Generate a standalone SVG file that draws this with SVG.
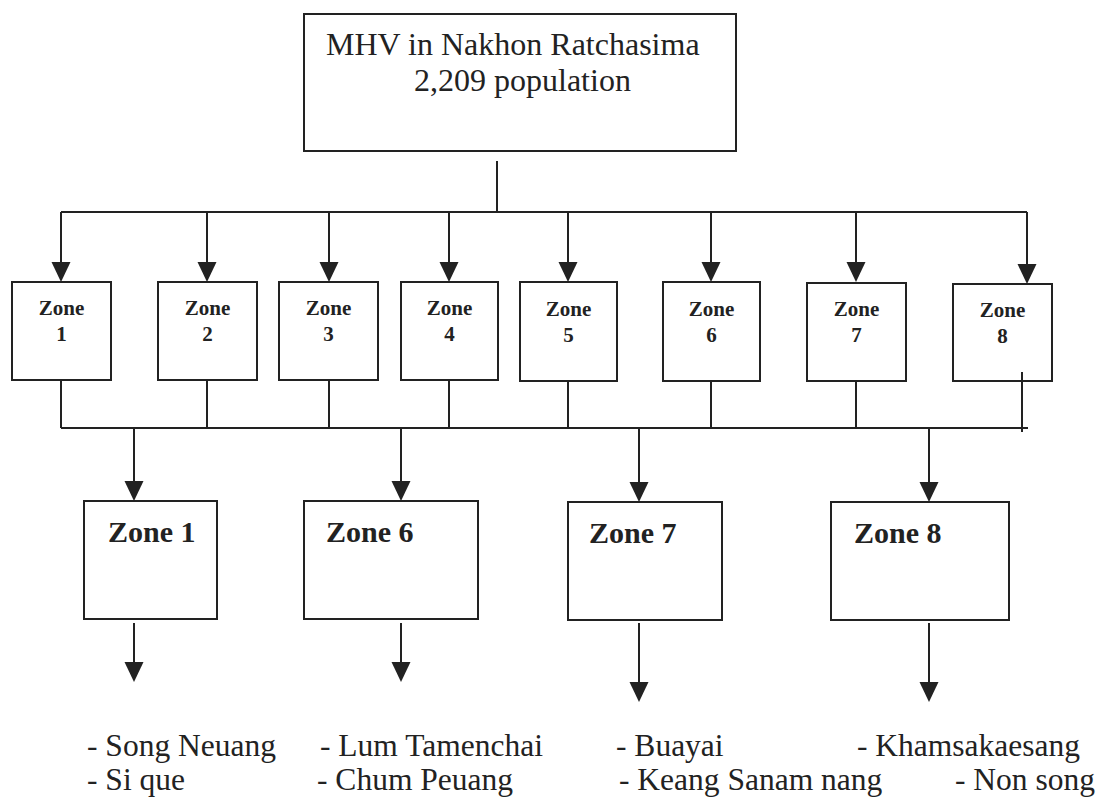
<svg xmlns="http://www.w3.org/2000/svg" width="1107" height="798" viewBox="0 0 1107 798">
<style>
  .box { fill: #ffffff; stroke: #222; stroke-width: 2; }
  .ln { fill: none; stroke: #222; stroke-width: 2; }
  .ah { fill: #222; stroke: none; }
  .t { font-family: "Liberation Serif", "Times New Roman", serif; fill: #222; }
  .title { font-size: 32px; }
  .zs { font-size: 21px; font-weight: bold; text-anchor: middle; }
  .zb { font-size: 30px; font-weight: bold; }
  .lst { font-size: 31.5px; }
</style>
<defs>
  <marker id="arr" viewBox="0 0 20 20" refX="10" refY="20" markerWidth="20" markerHeight="20" markerUnits="userSpaceOnUse" orient="auto-start-reverse">
    <path d="M0,0 L20,0 L10,20 Z" class="ah"/>
  </marker>
</defs>
<rect width="1107" height="798" fill="#ffffff"/>

<g id="connectors">
  <line class="ln" x1="497" y1="161" x2="497" y2="212"/>
  <line class="ln" x1="61" y1="212" x2="1027" y2="212"/>
  <g>
    <line class="ln" x1="61" y1="212" x2="61" y2="262"/><path class="ah" d="M51.5,262 L70.5,262 L61,282 Z"/>
    <line class="ln" x1="207" y1="212" x2="207" y2="262"/><path class="ah" d="M197.5,262 L216.5,262 L207,282 Z"/>
    <line class="ln" x1="329" y1="212" x2="329" y2="262"/><path class="ah" d="M319.5,262 L338.5,262 L329,282 Z"/>
    <line class="ln" x1="449" y1="212" x2="449" y2="262"/><path class="ah" d="M439.5,262 L458.5,262 L449,282 Z"/>
    <line class="ln" x1="568" y1="212" x2="568" y2="262"/><path class="ah" d="M558.5,262 L577.5,262 L568,282 Z"/>
    <line class="ln" x1="711" y1="212" x2="711" y2="262"/><path class="ah" d="M701.5,262 L720.5,262 L711,282 Z"/>
    <line class="ln" x1="856" y1="212" x2="856" y2="262"/><path class="ah" d="M846.5,262 L865.5,262 L856,282 Z"/>
    <line class="ln" x1="1027" y1="212" x2="1027" y2="264"/><path class="ah" d="M1017.5,264 L1036.5,264 L1027,284 Z"/>
  </g>
  <g>
    <line class="ln" x1="61" y1="380" x2="61" y2="428"/>
    <line class="ln" x1="207" y1="380" x2="207" y2="428"/>
    <line class="ln" x1="329" y1="380" x2="329" y2="428"/>
    <line class="ln" x1="449" y1="380" x2="449" y2="428"/>
    <line class="ln" x1="568" y1="381" x2="568" y2="428"/>
    <line class="ln" x1="711" y1="381" x2="711" y2="428"/>
    <line class="ln" x1="856" y1="381" x2="856" y2="428"/>
    <line class="ln" x1="61" y1="428" x2="1028" y2="428"/>
  </g>
  <g>
    <line class="ln" x1="134" y1="428" x2="134" y2="481"/><path class="ah" d="M124.5,481 L143.5,481 L134,501 Z"/>
    <line class="ln" x1="401" y1="428" x2="401" y2="481"/><path class="ah" d="M391.5,481 L410.5,481 L401,501 Z"/>
    <line class="ln" x1="639" y1="428" x2="639" y2="482"/><path class="ah" d="M629.5,482 L648.5,482 L639,502 Z"/>
    <line class="ln" x1="929" y1="428" x2="929" y2="482"/><path class="ah" d="M919.5,482 L938.5,482 L929,502 Z"/>
  </g>
  <g>
    <line class="ln" x1="134" y1="623" x2="134" y2="662"/><path class="ah" d="M124.5,662 L143.5,662 L134,682 Z"/>
    <line class="ln" x1="401" y1="623" x2="401" y2="662"/><path class="ah" d="M391.5,662 L410.5,662 L401,682 Z"/>
    <line class="ln" x1="639" y1="623" x2="639" y2="682"/><path class="ah" d="M629.5,682 L648.5,682 L639,702 Z"/>
    <line class="ln" x1="929" y1="623" x2="929" y2="682"/><path class="ah" d="M919.5,682 L938.5,682 L929,702 Z"/>
  </g>
</g>

<g id="root">
  <rect class="box" x="304" y="14" width="432" height="137"/>
  <text class="t title" x="326" y="55">MHV in Nakhon Ratchasima</text>
  <text class="t title" x="414" y="91">2,209 population</text>
</g>

<g id="zone1"><rect class="box" x="12" y="282" width="99" height="98"/><text class="t zs" x="61.5" y="315">Zone</text><text class="t zs" x="61.5" y="341">1</text></g>
<g id="zone2"><rect class="box" x="158" y="282" width="99" height="98"/><text class="t zs" x="207.5" y="315">Zone</text><text class="t zs" x="207.5" y="341">2</text></g>
<g id="zone3"><rect class="box" x="279" y="282" width="99" height="98"/><text class="t zs" x="328.5" y="315">Zone</text><text class="t zs" x="328.5" y="341">3</text></g>
<g id="zone4"><rect class="box" x="401" y="282" width="97" height="98"/><text class="t zs" x="449.5" y="315">Zone</text><text class="t zs" x="449.5" y="341">4</text></g>
<g id="zone5"><rect class="box" x="520" y="282" width="97" height="99"/><text class="t zs" x="568.5" y="316">Zone</text><text class="t zs" x="568.5" y="342">5</text></g>
<g id="zone6"><rect class="box" x="663" y="282" width="97" height="99"/><text class="t zs" x="711.5" y="316">Zone</text><text class="t zs" x="711.5" y="342">6</text></g>
<g id="zone7"><rect class="box" x="807" y="283" width="99" height="98"/><text class="t zs" x="856.5" y="316">Zone</text><text class="t zs" x="856.5" y="342">7</text></g>
<g id="zone8"><rect class="box" x="953" y="284" width="99" height="97"/><text class="t zs" x="1002.5" y="317">Zone</text><text class="t zs" x="1002.5" y="343">8</text>
  <line class="ln" x1="1022" y1="372" x2="1022" y2="432"/></g>

<g id="zoneB1"><rect class="box" x="84" y="501" width="133" height="118"/><text class="t zb" x="108" y="542">Zone 1</text></g>
<g id="zoneB6"><rect class="box" x="304" y="501" width="174" height="118"/><text class="t zb" x="326" y="542">Zone 6</text></g>
<g id="zoneB7"><rect class="box" x="568" y="502" width="154" height="118"/><text class="t zb" x="589" y="543">Zone 7</text></g>
<g id="zoneB8"><rect class="box" x="831" y="502" width="178" height="118"/><text class="t zb" x="854" y="543">Zone 8</text></g>

<g id="lists">
  <text class="t lst" x="87" y="756">- Song Neuang</text>
  <text class="t lst" x="87" y="790">- Si que</text>
  <text class="t lst" x="320" y="756">- Lum Tamenchai</text>
  <text class="t lst" x="317" y="790">- Chum Peuang</text>
  <text class="t lst" x="616" y="756">- Buayai</text>
  <text class="t lst" x="619" y="790">- Keang Sanam nang</text>
  <text class="t lst" x="857" y="756">- Khamsakaesang</text>
  <text class="t lst" x="955" y="790">- Non song</text>
</g>
</svg>
